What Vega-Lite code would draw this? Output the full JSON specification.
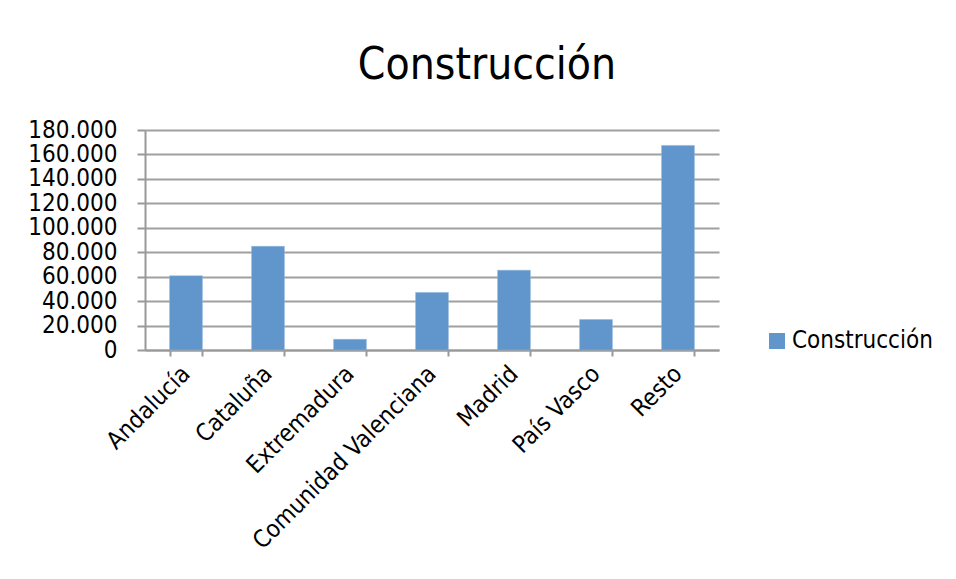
{
  "$schema": "https://vega.github.io/schema/vega-lite/v6.json",
  "autosize": {"type": "none"},
  "padding": {"left": 145, "top": 130, "right": 237, "bottom": 229},
  "width": 574,
  "height": 220,
  "background": "white",
  "title": {
    "text": "Construcción",
    "fontSize": 44,
    "font": "DejaVu Sans Condensed",
    "fontWeight": "normal",
    "color": "#000000",
    "anchor": "middle",
    "dx": 55,
    "offset": 30
  },
  "data": {
    "values": [
      {"region": "Andalucía", "serie": "Construcción", "valor": 60700},
      {"region": "Cataluña", "serie": "Construcción", "valor": 84800},
      {"region": "Extremadura", "serie": "Construcción", "valor": 8700},
      {"region": "Comunidad Valenciana", "serie": "Construcción", "valor": 47000},
      {"region": "Madrid", "serie": "Construcción", "valor": 65300},
      {"region": "País Vasco", "serie": "Construcción", "valor": 24900},
      {"region": "Resto", "serie": "Construcción", "valor": 167400}
    ]
  },
  "mark": {"type": "bar", "stroke": "#8fb4dc", "strokeWidth": 0.5},
  "encoding": {
    "x": {
      "field": "region",
      "type": "nominal",
      "sort": null,
      "title": null,
      "scale": {"paddingInner": 0.6, "paddingOuter": 0.3},
      "axis": {
        "labelAngle": -45,
        "labelAlign": "right",
        "labelBaseline": "middle",
        "labelFont": "DejaVu Sans Condensed",
        "labelFontSize": 24,
        "labelColor": "#000000",
        "labelPadding": 14,
        "tickBand": "extent",
        "tickSize": 6,
        "tickColor": "#999999",
        "tickWidth": 2,
        "domainColor": "#999999",
        "domainWidth": 2,
        "grid": false,
        "labelLimit": 400
      }
    },
    "y": {
      "field": "valor",
      "type": "quantitative",
      "title": null,
      "scale": {"domain": [0, 180000], "nice": false},
      "axis": {
        "values": [0, 20000, 40000, 60000, 80000, 100000, 120000, 140000, 160000, 180000],
        "labelExpr": "replace(format(datum.value, ','), ',', '.')",
        "labelFont": "DejaVu Sans Condensed",
        "labelFontSize": 24,
        "labelColor": "#000000",
        "labelPadding": 20,
        "labelBaseline": "middle",
        "tickSize": 8,
        "tickColor": "#999999",
        "tickWidth": 2,
        "domainColor": "#999999",
        "domainWidth": 2,
        "grid": true,
        "gridColor": "#a0a0a0",
        "gridWidth": 2,
        "labelOverlap": false
      }
    },
    "color": {
      "field": "serie",
      "type": "nominal",
      "title": null,
      "scale": {"range": ["#6096cb"]},
      "legend": {
        "orient": "none",
        "legendX": 620,
        "legendY": 199,
        "symbolType": "square",
        "symbolSize": 256,
        "symbolStrokeWidth": 0,
        "labelFont": "DejaVu Sans Condensed",
        "labelFontSize": 24,
        "labelColor": "#000000",
        "labelOffset": 3
      }
    }
  },
  "config": {
    "view": {"stroke": null}
  }
}
